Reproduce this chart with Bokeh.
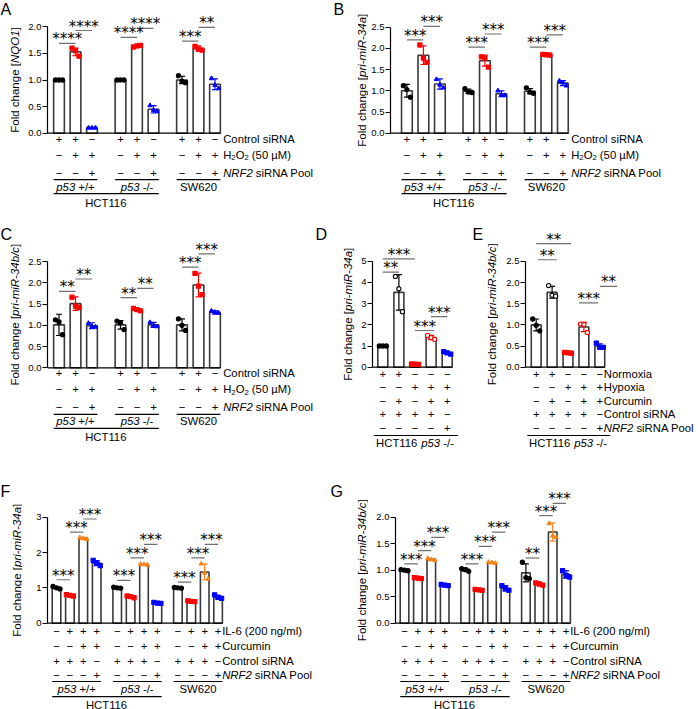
import math
from bokeh.plotting import figure
from bokeh.layouts import column, row
from bokeh.models import FixedTicker, Range1d, PrintfTickFormatter
from bokeh.core.properties import value
from bokeh.embed import file_html
from bokeh.resources import INLINE

# ---------------------------------------------------------------- data
# Panel A : NQO1, H2O2
A_mean = [1.00, 1.53, 0.10, 1.00, 1.63, 0.45, 1.00, 1.59, 0.92]
A_sd = [0.01, 0.07, 0.01, 0.01, 0.02, 0.07, 0.07, 0.05, 0.10]
A_pts = [[1.00, 1.00, 1.00], [1.60, 1.55, 1.45], [0.10, 0.10, 0.10],
         [1.00, 1.00, 1.00], [1.62, 1.64, 1.65], [0.52, 0.43, 0.41],
         [1.08, 0.98, 0.95], [1.63, 1.58, 1.56], [1.03, 0.90, 0.84]]
A_stars = [(0, 1, 1.69, "****"), (1, 2, 1.93, "****"), (3, 4, 1.80, "****"),
           (4, 5, 1.97, "****"), (6, 7, 1.73, "***"), (7, 8, 1.99, "**")]

# Panel B : pri-miR-34a, H2O2
B_mean = [1.00, 1.84, 1.16, 0.99, 1.71, 0.93, 0.99, 1.85, 1.18]
B_sd = [0.15, 0.22, 0.12, 0.05, 0.13, 0.07, 0.06, 0.02, 0.06]
B_pts = [[1.12, 1.03, 0.85], [2.08, 1.77, 1.67], [1.27, 1.14, 1.07],
         [1.05, 0.97, 0.96], [1.80, 1.77, 1.56], [1.00, 0.90, 0.89],
         [1.07, 0.97, 0.94], [1.86, 1.85, 1.84], [1.23, 1.19, 1.12]]
B_stars = [(0, 1, 2.20, "***"), (1, 2, 2.52, "***"), (3, 4, 2.03, "***"),
           (4, 5, 2.34, "***"), (6, 7, 2.03, "***"), (7, 8, 2.32, "***")]

# Panel C : pri-miR-34b/c, H2O2
C_mean = [1.01, 1.51, 0.99, 1.01, 1.36, 1.01, 1.01, 1.95, 1.30]
C_sd = [0.25, 0.16, 0.07, 0.10, 0.03, 0.06, 0.14, 0.28, 0.04]
C_pts = [[1.13, 1.08, 0.78], [1.66, 1.45, 1.42], [1.05, 0.97, 0.96],
         [1.10, 1.06, 0.90], [1.40, 1.37, 1.34], [1.07, 1.00, 0.97],
         [1.15, 1.00, 0.88], [2.22, 1.92, 1.72], [1.34, 1.31, 1.29]]
C_stars = [(0, 1, 1.80, "**"), (1, 2, 2.09, "**"), (3, 4, 1.65, "**"),
           (4, 5, 1.87, "**"), (6, 7, 2.37, "***"), (7, 8, 2.68, "***")]

# Panel D : pri-miR-34a, hypoxia / curcumin
D_mean = [1.00, 3.53, 0.14, 1.40, 0.67]
D_sd = [0.02, 0.84, 0.02, 0.10, 0.06]
D_pts = [[1.00, 1.00, 1.00], [4.28, 3.70, 2.62], [0.15, 0.14, 0.13],
         [1.50, 1.40, 1.31], [0.73, 0.68, 0.62]]
D_stars = [(0, 1, 4.48, "**"), (0, 2, 5.11, "***"), (2, 3.2, 1.73, "***"),
           (3, 4, 2.39, "***")]

# Panel E : pri-miR-34b/c, hypoxia / curcumin
E_mean = [1.00, 1.77, 0.34, 0.95, 0.50]
E_sd = [0.14, 0.14, 0.02, 0.11, 0.05]
E_pts = [[1.14, 0.99, 0.86], [1.93, 1.70, 1.68], [0.35, 0.34, 0.33],
         [1.02, 1.01, 0.82], [0.57, 0.47, 0.47]]
E_stars = [(0, 2.2, 2.92, "**"), (0.1, 1.3, 2.54, "**"), (2.7, 3.9, 1.52, "***"),
           (4.0, 5.1, 1.91, "**")]

# Panel F : pri-miR-34a, IL-6
F_mean = [1.00, 0.79, 2.40, 1.70, 1.00, 0.75, 1.66, 0.57, 1.00, 0.62, 1.45, 0.74]
F_sd = [0.03, 0.02, 0.02, 0.07, 0.01, 0.03, 0.01, 0.02, 0.01, 0.01, 0.22, 0.05]
F_pts = [[1.04, 1.00, 0.97], [0.81, 0.79, 0.77], [2.42, 2.40, 2.38], [1.78, 1.70, 1.63],
         [1.02, 1.00, 0.99], [0.77, 0.75, 0.72], [1.67, 1.66, 1.65], [0.59, 0.57, 0.56],
         [1.01, 1.00, 0.99], [0.63, 0.62, 0.61], [1.68, 1.42, 1.25], [0.80, 0.73, 0.70]]
F_stars = [(0, 1, 1.23, "***"), (1, 2, 2.58, "***"), (2, 3, 2.95, "***"),
           (4, 5, 1.21, "***"), (5, 6, 1.85, "***"), (6, 7, 2.23, "***"),
           (8, 9, 1.16, "***"), (9, 10, 1.85, "***"), (10, 11, 2.23, "***")]

# Panel G : pri-miR-34b/c, IL-6
G_mean = [1.00, 0.85, 1.20, 0.72, 1.01, 0.63, 1.14, 0.66, 0.95, 0.74, 1.72, 0.92]
G_sd = [0.01, 0.01, 0.02, 0.01, 0.03, 0.01, 0.01, 0.05, 0.17, 0.03, 0.17, 0.07]
G_pts = [[1.01, 1.00, 0.99], [0.86, 0.85, 0.84], [1.22, 1.20, 1.19], [0.73, 0.72, 0.71],
         [1.03, 1.01, 0.98], [0.64, 0.63, 0.62], [1.15, 1.14, 1.13], [0.71, 0.65, 0.62],
         [1.15, 0.86, 0.84], [0.76, 0.74, 0.72], [1.88, 1.65, 1.62], [0.99, 0.90, 0.87]]
G_stars = [(0, 1, 1.12, "***"), (1, 2, 1.37, "***"), (2, 3, 1.62, "***"),
           (4, 5, 1.12, "***"), (5, 6, 1.45, "***"), (6, 7, 1.72, "***"),
           (8, 9, 1.23, "**"), (9, 10, 2.03, "***"), (10, 11, 2.26, "***")]

# treatment tables
H_ctrl = ["+", "+", "−"] * 3
H_h2o2 = ["−", "+", "+"] * 3
H_nrf2 = ["−", "−", "+"] * 3
X_norm = ["+", "+", "−", "−", "−"]
X_hyp = ["−", "−", "+", "+", "+"]
X_curc = ["−", "+", "−", "+", "+"]
X_ctrl = ["+", "+", "+", "+", "−"]
X_nrf2 = ["−", "−", "−", "−", "+"]
I_il6 = ["−", "+", "+", "+"] * 3
I_curc = ["−", "−", "+", "+"] * 3
I_ctrl = ["+", "+", "+", "−"] * 3
I_nrf2 = ["−", "−", "−", "+"] * 3

T_h = [0, 0.5, 1.0, 1.5, 2.0]
T_h25 = [0, 0.5, 1.0, 1.5, 2.0, 2.5]
T_d = [0, 1, 2, 3, 4, 5]
T_f = [0, 1, 2, 3]

# ---------------------------------------------------------------- style
FONT = "Liberation Sans"
STAR_FONT = "DejaVu Sans"
BLACK, RED, BLUE, ORANGE = "#000000", "#ff0000", "#0000ff", "#f7821b"
TXT = 11.3
YSZ = 11.5
SUBK, SUBDROP = 0.68, 0.28

ARIAL = {" ": 278, "(": 333, ")": 333, "+": 584, "-": 333, "/": 278, "[": 278, "]": 278,
         "A": 667, "C": 722, "F": 611, "H": 722, "I": 278, "L": 556, "M": 833, "N": 722,
         "O": 778, "P": 667, "Q": 778, "R": 722, "S": 667, "T": 611, "W": 944,
         "a": 556, "b": 556, "c": 500, "d": 556, "e": 556, "g": 556, "h": 556, "i": 222,
         "l": 222, "m": 833, "n": 556, "o": 556, "p": 556, "r": 333, "s": 500, "t": 278,
         "u": 556, "x": 500, "y": 500, "µ": 576, "−": 584}


def tw(s, size):
    return sum(ARIAL.get(c, 556) for c in s) * size / 1000.0


def rich(p, x, y, parts, size, ppu, align="left"):
    sizes = [size * SUBK if s == "sub" else size for t, s in parts]
    widths = [tw(t, fs) for (t, s), fs in zip(parts, sizes)]
    cur = 0.0 if align == "left" else -sum(widths) / 2.0
    for (t, s), fs, w in zip(parts, sizes, widths):
        lead = len(t) - len(t.lstrip(" "))
        core = t.strip(" ")
        if core:
            yy = y - (SUBDROP * size / ppu if s == "sub" else 0.0)
            p.text(x=[x], y=[yy], text=[core], x_offset=cur + tw(" " * lead, fs),
                   text_font=value(FONT), text_font_size=value("%.1fpx" % fs),
                   text_font_style=value("italic" if s == "i" else "normal"),
                   text_align="left", text_baseline="middle", text_color="black")
        cur += w


def side_panel(g, ylab, letter, ticks):
    """narrow figure left of the axis: panel letter and y-axis title"""
    w = g["xm"] - g["xl"]
    h = g["fh"]
    q = figure(width=w, height=h, x_range=Range1d(0, w), y_range=Range1d(h, 0),
               x_axis_type=None, y_axis_type=None, output_backend="svg",
               toolbar_location=None, min_border=0)
    q.grid.visible = False
    q.outline_line_color = None
    q.text(x=[g["let"][0] - g["xl"]], y=[g["let"][1] - g["top"]], text=[letter],
           text_font=value(FONT), text_font_size=value("16px"), text_align="left",
           text_baseline="top", text_color="black")
    total = sum(tw(t, YSZ) for t, s in ylab)
    cy = g["y0"] - g["top"] - (ticks[0] + ticks[-1]) / 2.0 * g["ppu"]
    cur = cy + total / 2.0
    for t, s in ylab:
        q.text(x=[g["ylx"] - g["xl"]], y=[cur], text=[t], angle=math.pi / 2,
               text_font=value(FONT), text_font_size=value("%.1fpx" % YSZ),
               text_font_style=value("italic" if s == "i" else "normal"),
               text_align="left", text_baseline="middle", text_color="black")
        cur -= tw(t, YSZ)
    return q


def make_panel(g, mean, sd, pts, colors, markers, fills, stars, ticks, fmt, ylab,
               rows, row_labels, groups, top, letter):
    n, gap, slot = g["n"], g["gap"], g["slot"]
    fw = g["xr"] - g["xm"]
    L = round(g["axis"] - g["xm"])
    bar0 = g["bar0"] - g["xm"]
    y0 = g["y0"] - g["top"]
    ppu, bw, fh = g["ppu"], g["bw"], g["fh"]

    def X(px):
        return (px - bar0) / slot

    def Y(py):
        return (y0 - py) / ppu

    def posf(t):
        return t + math.floor(t / n) * gap

    nb = len(mean)
    pos = [posf(i) for i in range(nb)]
    p = figure(width=fw, height=fh, x_range=Range1d(X(L), X(fw)),
               y_range=Range1d(Y(fh), Y(0)),
               x_axis_type=None, output_backend="svg", toolbar_location=None,
               min_border=0, min_border_left=L, min_border_right=0,
               min_border_top=0, min_border_bottom=0)
    p.grid.visible = False
    p.outline_line_color = None

    ax = p.yaxis[0]
    ax.ticker = FixedTicker(ticks=ticks)
    ax.formatter = PrintfTickFormatter(format=fmt)
    ax.bounds = (ticks[0], ticks[-1])
    ax.axis_line_color = "black"
    ax.axis_line_width = 1.2
    ax.major_tick_line_color = "black"
    ax.major_tick_line_width = 1.2
    ax.major_tick_out = 5
    ax.major_tick_in = 0
    ax.minor_tick_line_color = None
    ax.major_label_text_font = FONT
    ax.major_label_text_font_size = "9.5px"
    ax.major_label_text_color = "black"
    ax.major_label_standoff = 1

    # bars
    p.vbar(x=pos, top=mean, bottom=0, width=bw, fill_color="white",
           line_color="#3a3a3a", line_width=1.6)
    p.segment(x0=[X(L)], y0=[0], x1=[pos[-1] + bw / 2], y1=[0],
              line_color="black", line_width=1.2)
    # error bars (mean ± SD)
    lo = [m - s for m, s in zip(mean, sd)]
    hi = [m + s for m, s in zip(mean, sd)]
    cap = 3.0 / slot
    p.segment(x0=pos, y0=lo, x1=pos, y1=hi, line_color=colors, line_width=1.2)
    p.segment(x0=[x - cap for x in pos] * 2, y0=lo + hi, x1=[x + cap for x in pos] * 2,
              y1=lo + hi, line_color=colors * 2, line_width=1.2)
    # replicate points
    jit = [-3.5 / slot, 0.0, 3.5 / slot]
    px, py, pc, pm, pf = [], [], [], [], []
    for i, trip in enumerate(pts):
        for j, v in enumerate(trip):
            px.append(pos[i] + jit[j])
            py.append(v)
            pc.append(colors[i])
            pm.append(markers[i])
            pf.append(fills[i])
    p.scatter(x=px, y=py, marker=pm, size=4.2, line_color=pc, fill_color=pf, line_width=1.1)

    # significance brackets
    xa = [posf(a) for a, b, yl, lab in stars]
    xb = [posf(b) for a, b, yl, lab in stars]
    yls = [yl for a, b, yl, lab in stars]
    p.segment(x0=xa, y0=yls, x1=xb, y1=yls, line_color="#707070", line_width=1.2)
    p.text(x=[(a + b) / 2 for a, b in zip(xa, xb)], y=[yl + 4.0 / ppu for yl in yls],
           text=[lab for a, b, yl, lab in stars], text_font=value(STAR_FONT),
           text_font_size=value("15px"), text_align="center",
           text_baseline="middle", text_color="black")

    # treatment table
    for r, syms in enumerate(rows):
        yy = -g["row_off"][r] / ppu
        p.text(x=pos, y=[yy] * nb, text=syms, text_font=value(FONT),
               text_font_size=value("%.1fpx" % TXT), text_align="center",
               text_baseline="middle", text_color="black")
        if row_labels:
            rich(p, X(g["lab"] - g["xm"]), yy, row_labels[r], TXT, ppu, "left")
    for i0, i1, parts in groups:
        yl = -g["ul"] / ppu
        p.segment(x0=[pos[i0] - bw / 2], y0=[yl], x1=[pos[i1] + bw / 2], y1=[yl],
                  line_color="black", line_width=1.2)
        rich(p, (pos[i0] + pos[i1]) / 2, -g["gl"] / ppu, parts, TXT, ppu, "center")
    i0, i1, parts = top
    yl = -g["tul"] / ppu
    p.segment(x0=[pos[i0] - bw / 2 - g["ext"][0]], y0=[yl],
              x1=[pos[i1] + bw / 2 + g["ext"][1]], y1=[yl], line_color="black", line_width=1.2)
    rich(p, (pos[i0] + pos[i1]) / 2, -g["tl"] / ppu, parts, TXT, ppu, "center")

    return [side_panel(g, ylab, letter, ticks), p]


# ---------------------------------------------------------------- layout (reference pixels)
ABC = dict(row_off=[5.5, 21.5, 39.5], ul=46.5, gl=53.5, tul=60.5, tl=69.5, ext=(0, 0),
           slot=16.5, gap=0.727, n=3, bw=0.65)
DE = dict(row_off=[6.6, 20.0, 33.3, 47.0, 60.6], ul=0, gl=0, tul=68.3, tl=75.5,
          ext=(0.25, 0.35), gap=0.0, n=5, bw=0.62)
FG = dict(row_off=[8.0, 23.0, 38.0, 51.6], ul=58.3, gl=66.0, tul=73.5, tl=81.5, ext=(0, 0),
          slot=13.4, gap=0.53, n=4, bw=0.64)

gA = dict(ABC, xl=0, xm=22, xr=330, axis=47, bar0=58.5, lab=222.7, ylx=14, let=(0, 0),
          top=0, fh=225, y0=132.7, ppu=53.2)
gB = dict(ABC, xl=330, xm=368, xr=698, axis=390, bar0=406.4, lab=570.7, ylx=361, let=(333, 0),
          top=0, fh=225, y0=132.7, ppu=42.4)
gC = dict(ABC, xl=0, xm=22, xr=315, axis=47, bar0=58.5, lab=222.7, ylx=14, let=(0, 225),
          top=225, fh=245, y0=367.3, ppu=42.5)
gD = dict(DE, xl=315, xm=356, xr=465, axis=372, bar0=382.3, slot=16.1, lab=0, ylx=347,
          let=(315, 225), top=225, fh=245, y0=366.7, ppu=21.2)
gE = dict(DE, xl=465, xm=498, xr=698, axis=525, bar0=535.7, slot=15.9, lab=603.3, ylx=491.7,
          let=(472, 225), top=225, fh=245, y0=366.7, ppu=42.3)
gF = dict(FG, xl=0, xm=22, xr=330, axis=47, bar0=56.0, lab=221.7, ylx=16.7, let=(0, 482),
          top=470, fh=239, y0=622.7, ppu=35.33)
gG = dict(FG, xl=330, xm=368, xr=698, axis=395, bar0=404.0, lab=569.7, ylx=361, let=(330, 482),
          top=470, fh=239, y0=622.7, ppu=53.0)

col3 = [BLACK, RED, BLUE] * 3
mk3 = ["circle", "square", "triangle"] * 3
col5 = [BLACK, BLACK, RED, RED, BLUE]
mk5 = ["circle", "circle", "square", "circle", "square"]
fl5 = [BLACK, "white", RED, "white", BLUE]
col4 = [BLACK, RED, ORANGE, BLUE] * 3
mk4 = ["circle", "square", "triangle", "square"] * 3

NQO1 = [("Fold change [", "n"), ("NQO1", "i"), ("]", "n")]
M34A = [("Fold change [", "n"), ("pri-miR-34a", "i"), ("]", "n")]
M34B = [("Fold change [", "n"), ("pri-miR-34b/c", "i"), ("]", "n")]

L_ctrl = [("Control siRNA", "n")]
L_h2o2 = [("H", "n"), ("2", "sub"), ("O", "n"), ("2", "sub"), (" (50 µM)", "n")]
L_nrf2 = [("NRF2", "i"), (" siRNA Pool", "n")]
L_il6 = [("IL-6 (200 ng/ml)", "n")]
L_curc = [("Curcumin", "n")]

grp3 = [(0, 2, [("p53", "i"), (" +/+", "n")]), (3, 5, [("p53", "i"), (" -/-", "n")]),
        (6, 8, [("SW620", "n")])]
grp4 = [(0, 3, [("p53", "i"), (" +/+", "n")]), (4, 7, [("p53", "i"), (" -/-", "n")]),
        (8, 11, [("SW620", "n")])]
top3 = (0, 5, [("HCT116", "n")])
top4 = (0, 7, [("HCT116", "n")])
top5 = (0, 4, [("HCT116 ", "n"), ("p53", "i"), (" -/-", "n")])

rows_h = [H_ctrl, H_h2o2, H_nrf2]
labs_h = [L_ctrl, L_h2o2, L_nrf2]
rows_x = [X_norm, X_hyp, X_curc, X_ctrl, X_nrf2]
labs_x = [[("Normoxia", "n")], [("Hypoxia", "n")], L_curc, L_ctrl, L_nrf2]
rows_i = [I_il6, I_curc, I_ctrl, I_nrf2]
labs_i = [L_il6, L_curc, L_ctrl, L_nrf2]

pA = make_panel(gA, A_mean, A_sd, A_pts, col3, mk3, col3, A_stars, T_h, "%.1f", NQO1,
                rows_h, labs_h, grp3, top3, "A")
pB = make_panel(gB, B_mean, B_sd, B_pts, col3, mk3, col3, B_stars, T_h25, "%.1f", M34A,
                rows_h, labs_h, grp3, top3, "B")
pC = make_panel(gC, C_mean, C_sd, C_pts, col3, mk3, col3, C_stars, T_h25, "%.1f", M34B,
                rows_h, labs_h, grp3, top3, "C")
pD = make_panel(gD, D_mean, D_sd, D_pts, col5, mk5, fl5, D_stars, T_d, "%d", M34A,
                rows_x, None, [], top5, "D")
pE = make_panel(gE, E_mean, E_sd, E_pts, col5, mk5, fl5, E_stars, T_h25, "%.1f", M34B,
                rows_x, labs_x, [], top5, "E")
pF = make_panel(gF, F_mean, F_sd, F_pts, col4, mk4, col4, F_stars, T_f, "%d", M34A,
                rows_i, labs_i, grp4, top4, "F")
pG = make_panel(gG, G_mean, G_sd, G_pts, col4, mk4, col4, G_stars, T_h, "%.1f", M34B,
                rows_i, labs_i, grp4, top4, "G")

layout = column(row(*pA, *pB), row(*pC, *pD, *pE), row(*pF, *pG))
open("out.html", "w").write(file_html(layout, INLINE))
